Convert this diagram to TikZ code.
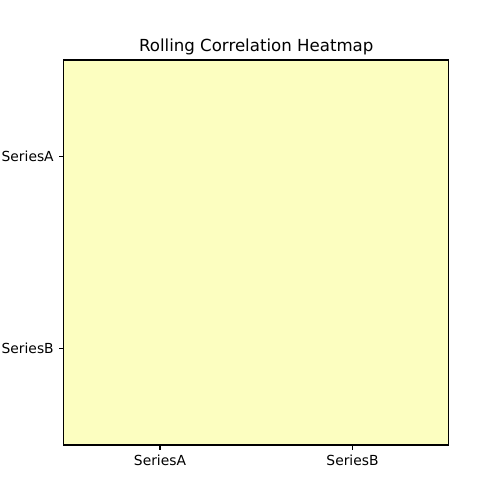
\documentclass[tikz,border=0pt]{standalone}
\usepackage{fontspec}
\setmainfont{DejaVu Sans}
\usepackage{tikz}
\usetikzlibrary{positioning}
\definecolor{cellfill}{RGB}{252,254,192}
\tikzstyle{tick}=[line width=0.8pt]
\tikzstyle{ticklabel}=[inner sep=0pt, font=\fontsize{10}{12}\selectfont]
\tikzstyle{heading}=[inner sep=0pt, font=\fontsize{12}{14}\selectfont]

\begin{document}
\begin{tikzpicture}[x=0.01in, y=-0.01in]
        \useasboundingbox (0,0) rectangle (500,500);
        \fill[cellfill] (63.75,60) rectangle (448.75,445);
        \draw[line width=0.8pt] (63.75,60) rectangle (448.75,445);
        \foreach \y/\name in {156.25/SeriesA, 348.75/SeriesB} {
             \draw[tick] (63.75,\y) -- (58.9,\y);
             \node[ticklabel, anchor=east] (y\name) at (54,\y) {\name};
        }
        \foreach \x/\name in {160/SeriesA, 352.5/SeriesB} {
             \draw[tick] (\x,445) -- (\x,449.9);
             \node[ticklabel, anchor=north] (x\name) at (\x,454.8) {\name};
        }
        \node[heading, anchor=base] (title) at (256.25,51.7) {Rolling Correlation Heatmap};
    \end{tikzpicture}
\end{document}
